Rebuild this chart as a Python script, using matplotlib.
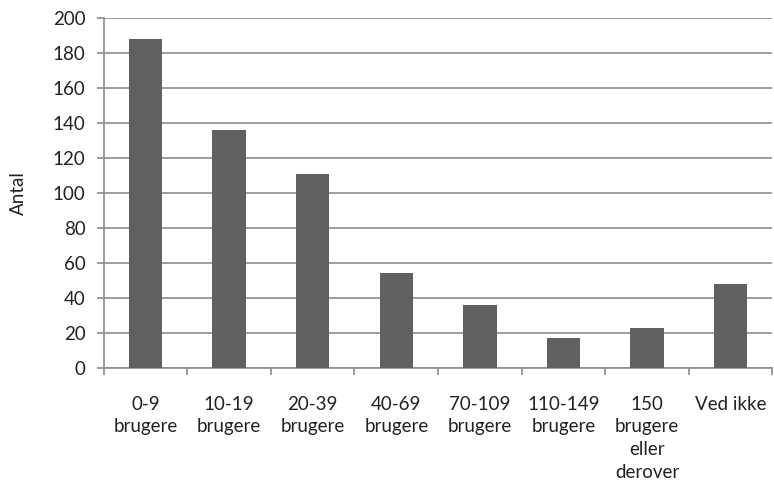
import numpy as np
import matplotlib
matplotlib.use("Agg")
from matplotlib import pyplot as plt

categories = ["0-9\nbrugere", "10-19\nbrugere", "20-39\nbrugere", "40-69\nbrugere",
              "70-109\nbrugere", "110-149\nbrugere", "150\nbrugere\neller\nderover", "Ved ikke"]
values = [188, 136, 111, 54, 36, 17, 23, 48]

plt.rcParams['font.family'] = ['Lato', 'DejaVu Sans']

fig = plt.figure(figsize=(7.74, 4.84), dpi=100)
ax = fig.add_axes([0.134, 0.240, 0.864, 0.723])

x = np.arange(len(categories))
ax.bar(x, values, width=0.4, color="#606060", zorder=3)

ax.set_xlim(-0.5, len(categories) - 0.5)
ax.set_ylim(0, 200)
ax.set_yticks(np.arange(0, 201, 20))
ax.yaxis.grid(True, color="#8c8c8c", linewidth=1.2, zorder=0)

# category labels centred, tick marks between categories
ax.set_xticks(x)
ax.set_xticklabels(categories, fontsize=13.5, color="#222222", linespacing=1.42)
ax.tick_params(axis="x", which="major", length=0, pad=20)
ax.set_xticks(np.arange(-0.5, len(categories), 1), minor=True)
ax.tick_params(axis="x", which="minor", length=5, width=1.2, color="#8c8c8c", direction="out")
ax.tick_params(axis="y", length=5, width=1.2, color="#8c8c8c", labelsize=13.5, labelcolor="#222222", pad=8)

for s in ["top", "right"]:
    ax.spines[s].set_visible(False)
for s in ["left", "bottom"]:
    ax.spines[s].set_color("#8c8c8c")
    ax.spines[s].set_linewidth(1.2)

ax.set_ylabel("Antal", fontsize=13.5, color="#222222", labelpad=19)

fig.savefig("out.png", dpi=100)
